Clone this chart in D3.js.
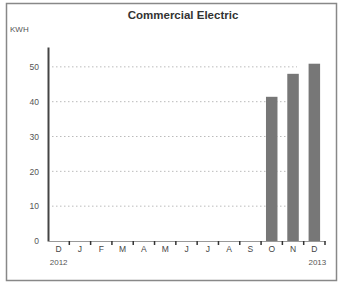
<!DOCTYPE html>
<meta charset="utf-8">
<script src="https://d3js.org/d3.v7.min.js"></script>
<style>
  body { margin: 0; background: #fff; }
</style>
<div id="my_dataviz"></div>
<script>

// data
var months = ["D", "J", "F", "M", "A", "M", "J", "J", "A", "S", "O", "N", "D"];
var kwh = [0, 0, 0, 0, 0, 0, 0, 0, 0, 0, 41.4, 48, 50.9];
var yTicks = [0, 10, 20, 30, 40, 50];
var yearLabels = ["2012", "2013"];

var W = 347, H = 285;
var margin = {top: 47, right: 22, bottom: 44, left: 48},
    width = W - margin.left - margin.right,
    height = H - margin.top - margin.bottom;

var root = d3.select("#my_dataviz")
  .append("svg")
    .attr("width", W)
    .attr("height", H);

// outer frame
root.append("rect")
  .attr("x", 6.5).attr("y", 3.5)
  .attr("width", 330).attr("height", 277)
  .attr("fill", "none")
  .attr("stroke", "#888")
  .attr("stroke-width", 1.5);

root.append("text")
  .attr("x", 183).attr("y", 19)
  .attr("text-anchor", "middle")
  .style("font-family", "Arial")
  .style("font-weight", "bold")
  .style("font-size", "11.5px")
  .attr("fill", "#333")
  .text("Commercial Electric");

root.append("text")
  .attr("x", 10).attr("y", 32)
  .style("font-family", "Arial")
  .style("font-size", "8px")
  .attr("fill", "#555")
  .text("KWH");

var svg = root.append("g")
  .attr("transform", "translate(" + margin.left + "," + margin.top + ")");

var x = d3.scaleBand()
  .domain(d3.range(months.length))
  .range([0, width])
  .paddingInner(0.46)
  .paddingOuter(0.23);

var y = d3.scaleLinear()
  .domain([0, 55.7])
  .range([height, 0]);

// dotted gridlines
svg.selectAll(".grid")
  .data(yTicks.filter(function(d) { return d > 0; }))
  .enter().append("line")
    .attr("x1", 4).attr("x2", width - 28)
    .attr("y1", function(d) { return y(d); })
    .attr("y2", function(d) { return y(d); })
    .attr("stroke", "#bbb")
    .attr("stroke-dasharray", "1.5,2.5");

// Y axis
var yAxis = svg.append("g")
  .call(d3.axisLeft(y).tickValues(yTicks).tickSize(0).tickPadding(9));
yAxis.select(".domain").attr("stroke", "#444").attr("stroke-width", 2);
yAxis.selectAll("text")
  .style("font-family", "Arial")
  .style("font-size", "8.5px")
  .attr("fill", "#555");

// bars
svg.selectAll("rect.bar")
  .data(kwh)
  .enter().append("rect")
    .attr("class", "bar")
    .attr("x", function(d, i) { return x(i); })
    .attr("y", function(d) { return y(d); })
    .attr("width", x.bandwidth())
    .attr("height", function(d) { return height - y(d); })
    .attr("fill", "#777");

// X axis
var xAxis = svg.append("g")
  .attr("transform", "translate(0," + height + ")")
  .call(d3.axisBottom(x).tickFormat(function(i) { return months[i]; }).tickSize(0).tickPadding(5));
xAxis.select(".domain").attr("stroke", "#999").attr("stroke-width", 1);
xAxis.selectAll("text")
  .style("font-family", "Arial")
  .style("font-size", "8.5px")
  .attr("fill", "#444");

// little tick marks between months
svg.selectAll(".xtick")
  .data(d3.range(1, months.length + 1))
  .enter().append("line")
    .attr("x1", function(i) { return x.step() * i; })
    .attr("x2", function(i) { return x.step() * i; })
    .attr("y1", height)
    .attr("y2", height + 4)
    .attr("stroke", "#333")
    .attr("stroke-width", 1.5);

// year labels under the first and last month
svg.selectAll(".year")
  .data(yearLabels)
  .enter().append("text")
    .attr("x", function(d, i) { return i === 0 ? x(0) + x.bandwidth() / 2 : x(months.length - 1) + x.bandwidth() / 2 + 3; })
    .attr("y", height + 24)
    .attr("text-anchor", "middle")
    .style("font-family", "Arial")
    .style("font-size", "8px")
    .attr("fill", "#555")
    .text(function(d) { return d; });

</script>
